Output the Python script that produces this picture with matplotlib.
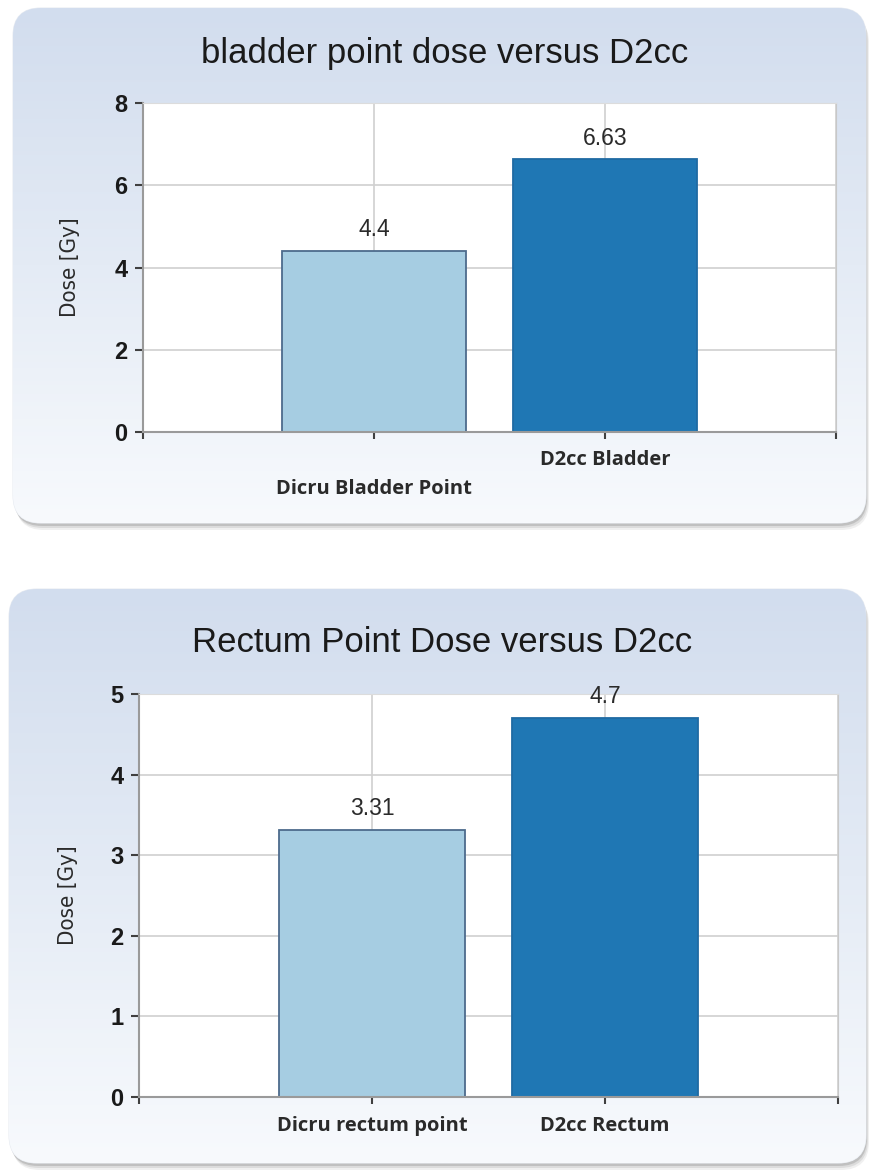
import numpy as np
import matplotlib
matplotlib.use("Agg")
import matplotlib.pyplot as plt
from matplotlib.patches import FancyBboxPatch
from matplotlib.colors import LinearSegmentedColormap

# ---- data ----
titles = ["bladder point dose versus D2cc", "Rectum Point Dose versus D2cc"]
categories_bladder = ["Dicru Bladder Point", "D2cc Bladder"]
values_bladder = [4.4, 6.63]
categories_rectum = ["Dicru rectum point", "D2cc Rectum"]
values_rectum = [3.31, 4.7]
yticks_bladder = [0, 2, 4, 6, 8]
yticks_rectum = [0, 1, 2, 3, 4, 5]
ylabel = "Dose [Gy]"

bar_colors = ["#a6cde2", "#1f77b4"]
bar_edges = ["#4d6b8c", "#1f6aa3"]

W, H = 871, 1174
fig = plt.figure(figsize=(W / 100, H / 100), dpi=100)
fig.patch.set_facecolor("white")

# background canvas in pixel coordinates
bg = fig.add_axes([0, 0, 1, 1], zorder=-10)
bg.set_xlim(0, W)
bg.set_ylim(H, 0)
bg.axis("off")

grad_cmap = LinearSegmentedColormap.from_list("g", ["#d2ddee", "#e4ebf5", "#f8fafd"])

boxes = [(13, 8, 866, 523), (9, 589, 866, 1163)]
for (x0, y0, x1, y1) in boxes:
    # soft shadow
    for dx, dy, a in [(3, 7, 0.10), (2, 5, 0.15), (1, 3, 0.25)]:
        sh = FancyBboxPatch((x0 + dx, y0 + dy), x1 - x0, y1 - y0,
                            boxstyle="round,pad=0,rounding_size=28",
                            facecolor="#707070", edgecolor="none", alpha=a, zorder=1)
        bg.add_patch(sh)
    box = FancyBboxPatch((x0, y0), x1 - x0, y1 - y0,
                         boxstyle="round,pad=0,rounding_size=28",
                         facecolor="#f8fafd", edgecolor="#e8ecf2", lw=0.8, zorder=2)
    bg.add_patch(box)
    im = bg.imshow(np.linspace(0, 1, 256).reshape(-1, 1), cmap=grad_cmap,
                   extent=(x0, x1, y1, y0), aspect="auto", origin="upper", zorder=3)
    im.set_clip_path(box)
bg.set_xlim(0, W)
bg.set_ylim(H, 0)

narrow = ["Liberation Sans Narrow", "DejaVu Sans", "Liberation Sans"]
arial = ["Liberation Sans", "DejaVu Sans"]
segoe = ["Open Sans", "Noto Sans", "DejaVu Sans"]


def make_panel(rect, cats, vals, yticks, title, title_xy, stagger, label_coords):
    ax = fig.add_axes(rect)
    ax.set_facecolor("white")
    xs = np.arange(1, len(cats) + 1)
    ax.bar(xs, vals, width=0.8, color=bar_colors, edgecolor=bar_edges,
           linewidth=1.3, zorder=2)
    ax.set_xlim(0, len(cats) + 1)
    ax.set_ylim(yticks[0], yticks[-1])
    ax.set_yticks(yticks)
    ax.set_yticklabels([str(t) for t in yticks], fontsize=17, fontweight="bold",
                       family=arial, color="#1a1a1a")
    # category ticks
    if stagger:
        ax.set_xticks([xs[1]])
        ax.set_xticklabels([cats[1]])
        ax.set_xticks([0, xs[0], len(cats) + 1], minor=True)
        ax.set_xticklabels(["", cats[0], ""], minor=True)
        ax.tick_params(axis="x", which="major", pad=8)
        ax.tick_params(axis="x", which="minor", pad=29)
    else:
        ax.set_xticks(list(xs))
        ax.set_xticklabels(cats)
        ax.set_xticks([0, len(cats) + 1], minor=True)
        ax.tick_params(axis="x", which="major", pad=9)
    for lbl in ax.get_xticklabels(which="both"):
        lbl.set_fontsize(14.5)
        lbl.set_fontweight("bold")
        lbl.set_family(segoe)
        lbl.set_color("#2a2a2a")
    ax.tick_params(axis="x", which="both", direction="out", length=5, width=1.5,
                   color="#404040")
    ax.tick_params(axis="y", direction="out", length=6, width=1.5,
                   color="#404040", pad=5)
    ax.grid(True, axis="y", color="#d0d0d0", lw=1.2, zorder=0)
    ax.grid(True, axis="x", which="both", color="#d0d0d0", lw=1.2, zorder=0)
    ax.set_axisbelow(True)
    ax.spines["left"].set_color("#9a9a9a")
    ax.spines["left"].set_linewidth(1.5)
    ax.spines["bottom"].set_color("#9a9a9a")
    ax.spines["bottom"].set_linewidth(1.5)
    ax.spines["right"].set_color("#c8c8c8")
    ax.spines["top"].set_color("#dcdcdc")
    for x, v in zip(xs, vals):
        ax.annotate(f"{v:g}", (x, v), xytext=(0, 7), textcoords="offset points",
                    ha="center", va="bottom", fontsize=16.5, family=arial,
                    color="#2a2a2a", zorder=3)
    ax.set_ylabel(ylabel, fontsize=16, family=narrow, fontstretch="condensed",
                  color="#2a2a2a")
    ax.yaxis.set_label_coords(*label_coords)
    ax.yaxis.label.set_va("center")
    fig.text(title_xy[0] / W, 1 - title_xy[1] / H, title, ha="center", va="center",
             fontsize=25, family=arial, color="#1a1a1a")
    return ax


make_panel([143 / W, 1 - 432 / H, (836 - 143) / W, (432 - 103) / H],
           categories_bladder, values_bladder, yticks_bladder, titles[0],
           (445, 53), True, (-0.105, 0.5))
make_panel([139 / W, 1 - 1097 / H, (838 - 139) / W, (1097 - 694) / H],
           categories_rectum, values_rectum, yticks_rectum, titles[1],
           (442, 643), False, (-0.102, 0.5))

fig.savefig("out.png", dpi=100)
